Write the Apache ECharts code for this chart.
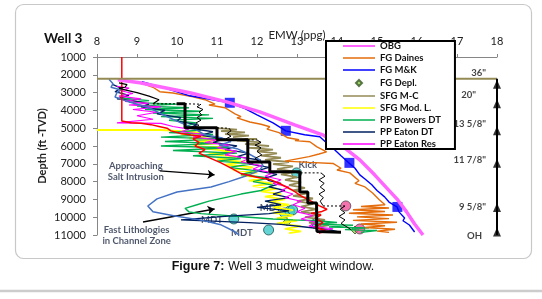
<!DOCTYPE html>
<html>
<head>
<meta charset="utf-8">
<title>Well 3 mudweight window</title>
<script src="https://cdn.jsdelivr.net/npm/echarts@6/dist/echarts.min.js"></script>
<style>
  html, body { margin: 0; padding: 0; background: #fff; }
  #chart { width: 542px; height: 299px; }
</style>
</head>
<body>
<div id="chart"></div>
<script>
// axis ranges
const emwMin = 8, emwMax = 18, emwStep = 1;
const depthMin = 1000, depthMax = 11000, depthStep = 1000;

// all curves are [EMW (ppg), depth (ft TVD)]
const obg = [[8.52,2280],[9.07,2450],[9.57,2670],[10.32,3010],[11.24,3520],[12.07,4080],[12.94,4810],[13.64,5370],
  [14.19,6100],[14.57,6780],[14.94,7620],[15.24,8350],[15.52,9030],[15.74,9700],[15.94,10380],[16.15,11000]];

const fgDaines = [[9.14,2500],[9.4,2700],[9.57,2950],[9.9,3020],[9.85,3100],[10.4,3240],[10.7,3400],[10.95,3650],
  [10.8,3700],[11.2,3850],[11.45,4200],[11.6,4350],[11.5,4420],[11.82,4650],[12.1,4780],[12.32,4920],[12.25,5050],
  [12.55,5250],[12.77,5540],[13.05,5650],[12.95,5700],[13.32,5760],[13.5,6050],[13.74,6330],[13.55,6450],[13.3,6600],
  [12.7,6850],[13.3,6920],[13.9,6980],[14.1,7250],[14.0,7350],[14.32,7510],[14.55,7950],[14.45,8100],[14.7,8300],
  [14.89,8640],[15.05,9000],[15.2,9300],[14.6,9400],[15.3,9480],[14.4,9580],[15.2,9680],[14.3,9780],[15.4,9880],
  [14.5,9980],[15.3,10080],[14.4,10180],[15.5,10280],[14.6,10380],[15.2,10480],[14.7,10580],[15.45,10680],
  [15.0,10780],[15.3,10850]];

const fgMK = [[9.12,2390],[9.7,2750],[10.32,3180],[10.9,3400],[11.32,3580],[11.7,3900],[12.0,4250],[12.4,4700],
  [12.72,5150],[13.19,5370],[13.57,5480],[13.75,5850],[13.94,6210],[14.1,6550],[14.3,6950],[14.45,7250],[14.57,7620],
  [14.7,7850],[14.87,8180],[15.0,8500],[15.19,8860],[15.3,9150],[15.5,9420],[15.55,9700],[15.69,10040],[15.65,10200],
  [15.81,10440],[15.94,10830]];

const fgDepl = [[12.75,10270],[14.45,10720]];

const sfgMC = [[11.0,5000],[11.5,5080],[11.1,5160],[11.7,5240],[11.2,5330],[11.8,5420],[11.4,5500],[12.0,5600],
  [11.5,5700],[12.1,5800],[11.7,5900],[12.3,6000],[11.8,6100],[12.4,6200],[12.0,6300],[12.5,6420],[12.1,6540],
  [12.6,6660],[12.2,6780],[12.8,6900],[12.4,7020],[12.9,7150],[12.5,7300],[13.0,7450],[12.6,7600],[13.0,7750],
  [12.7,7900],[13.1,8050],[12.8,8200],[13.2,8350],[12.9,8500],[13.3,8650],[12.9,8800],[13.4,8950],[13.0,9100],
  [13.4,9250],[13.1,9400],[13.5,9550],[13.1,9700],[13.6,9850],[13.2,10000],[13.7,10150],[13.3,10300],[13.8,10450],
  [13.4,10600],[13.9,10750],[13.6,10850]];

const sfgModL = [[8.0,5100],[9.6,5100],[10.0,5150],[10.6,5250],[10.1,5350],[10.9,5450],[10.3,5550],[11.1,5650],
  [10.5,5750],[11.0,5850],[10.4,5950],[11.2,6050],[10.7,6150],[11.4,6300],[10.8,6450],[11.5,6600],[11.0,6750],
  [11.7,6900],[11.2,7050],[11.9,7200],[11.4,7350],[12.0,7500],[11.6,7650],[12.2,7800],[11.8,7950],[12.4,8100],
  [11.9,8250],[12.5,8400],[12.1,8550],[12.6,8700],[12.2,8850],[12.7,9000],[12.3,9150],[12.8,9300],[12.4,9450],
  [12.9,9600],[12.4,9750],[12.9,9900],[12.5,10050],[13.0,10200],[12.5,10350],[13.1,10500],[12.7,10650],[13.1,10800],
  [12.8,10900]];

const ppBowers = [[8.6,3300],[9.3,3450],[8.8,3550],[10.0,3650],[9.0,3750],[10.3,3850],[9.2,3950],[10.6,4050],
  [9.4,4150],[10.8,4250],[9.6,4350],[10.9,4450],[9.8,4550],[10.5,4700],[10.2,4900],[10.6,5100],[9.8,5250],[10.9,5350],
  [9.6,5500],[11.1,5600],[9.7,5750],[11.0,5850],[9.6,6000],[11.3,6100],[9.9,6250],[11.5,6400],[10.4,6550],[11.6,6700],
  [11.0,6850],[11.9,7000],[11.3,7200],[12.0,7400],[11.6,7600],[12.3,7800],[11.9,8000],[12.4,8200],[12.1,8500],
  [11.6,8700],[11.2,8900],[10.8,9100],[10.5,9300],[10.2,9500],[10.3,9700],[10.6,9800],[11.2,9900],[11.8,10000],
  [12.4,10100],[12.9,10150],[13.5,10200],[14.0,10300],[13.4,10400],[14.4,10450],[13.8,10550],[14.8,10600],
  [14.2,10700],[15.0,10750],[14.6,10850]];

const ppEatonDT = [[8.4,2550],[8.6,2750],[8.45,2950],[8.8,3150],[8.5,3350],[8.9,3450],[9.3,3650],[9.1,3800],
  [9.7,4000],[9.5,4200],[10.1,4400],[10.0,4600],[10.5,4800],[10.3,5000],[10.9,5200],[10.6,5400],[11.2,5600],
  [10.9,5800],[11.5,6000],[11.2,6200],[11.8,6400],[11.5,6600],[12.1,6800],[11.8,7000],[12.3,7200],[12.0,7400],
  [12.5,7600],[12.2,7800],[12.3,7950],[12.6,8100],[12.3,8300],[12.7,8500],[12.4,8700],[12.8,8900],[12.2,9100],
  [12.6,9300],[12.0,9450],[12.8,9650],[12.3,9800],[11.2,9950],[10.1,10150],[10.9,10220],[11.8,10300],[12.6,10400],
  [13.2,10550],[13.8,10700],[14.1,10850]];

const ppEatonRes = [[8.5,2650],[8.8,2750],[8.6,2900],[8.9,3050],[8.55,3200],[9.1,3350],[8.7,3500],[9.3,3600],
  [8.8,3700],[9.6,3800],[8.9,3950],[9.5,4100],[9.0,4300],[9.4,4500],[8.5,4700],[9.6,4730],[9.9,4900],[10.3,5050],
  [10.1,5200],[10.7,5350],[10.4,5500],[11.0,5650],[10.7,5800],[11.3,5950],[11.0,6100],[11.5,6300],[11.2,6500],
  [11.8,6700],[11.6,6900],[12.1,7100],[11.9,7300],[12.4,7500],[12.2,7700],[12.6,7900],[12.4,8100],[12.8,8300],
  [12.6,8500],[12.9,8700],[12.7,8900],[13.1,9100],[12.9,9300],[13.2,9500],[13.0,9700],[13.4,9900],[13.1,10100],
  [13.5,10300],[13.3,10500],[13.9,10650],[13.5,10800]];

// unlabelled traces
const ppRed = [[8.62,1000],[8.62,4600],[8.85,4700],[9.1,4720],[9.35,4800],[9.55,4900],[9.75,5000],[9.85,5150],
  [10.1,5300],[10.35,5380],[10.6,5450],[10.4,5600],[10.55,5800],[10.45,6000],[10.7,6200],[10.55,6400],[10.8,6650],
  [11.1,6950],[11.4,7300],[11.6,7550],[12.0,7750],[12.35,7900],[12.6,8150],[12.9,8500],[13.1,8800],[13.35,9100],
  [13.55,9350],[13.75,9550],[13.6,9700],[13.35,9780],[13.6,9880],[13.45,10050],[13.65,10300],[13.45,10550],
  [13.7,10750],[13.55,10900]];

const ppSteel = [[8.3,2250],[8.4,2500],[8.35,2700],[8.6,2850],[8.5,3000],[8.45,3250],[8.7,3450],[8.9,3580],
  [9.3,3850],[9.75,4350],[10.1,4700],[10.4,4980],[10.7,5370],[11.1,5540],[11.35,5750],[11.05,5950],[11.5,6150],
  [11.8,6450],[12.05,6750],[12.15,7100],[12.05,7400],[11.7,7700],[11.3,8000],[10.85,8300],[10.0,8580],[9.5,8970],
  [9.27,9370],[9.4,9700],[9.95,9930],[10.57,10150],[11.1,10430],[11.45,10820],[11.55,11000]];

const mudWeight = [[9.99,3630],[10.2,3630],[10.2,4980],[11.0,4980],[11.0,5655],[11.77,5655],[11.77,6900],
  [12.32,6900],[12.32,7450],[13.07,7450],[13.07,8580],[13.27,8580],[13.27,9200],[13.49,9200],[13.49,10550],
  [13.5,10800],[14.1,10850]];

const ecdTop = [[8.55,2450],[8.75,2550],[8.7,2700],[8.55,2750],[8.7,2850],[9.0,3000],[9.3,3200],[9.55,3400],[9.4,3630]];

const dashedLinks = [
  [[9.4,3630],[10.0,3630]],
  [[10.2,3630],[10.6,3650]],
  [[11.0,4980],[11.3,5000]],
  [[11.77,5655],[12.0,5660]],
  [[12.99,7510],[13.6,7510]],
  [[13.65,9370],[14.2,9370]]
];

const thinTraces = [
  [[10.6,3650],[10.5,3800],[10.65,3950],[10.55,4100],[10.62,4250],[10.5,4400],[10.6,4550],[10.48,4700],[10.55,4850],[10.4,4950]],
  [[11.3,5000],[11.35,5150],[11.25,5300],[11.35,5450],[11.22,5600]],
  [[12.0,5660],[12.1,5800],[11.95,5950],[12.1,6100],[12.0,6300],[12.12,6500],[11.95,6700],[12.05,6880]],
  [[13.6,7510],[13.7,7700],[13.55,7900],[13.68,8100],[13.58,8300],[13.7,8500],[13.55,8700],[13.66,8900],[13.58,9100],[13.65,9350]],
  [[14.2,9370],[14.08,9550],[14.2,9750],[14.05,9950],[14.2,10150],[14.1,10350],[14.25,10550],[14.35,10700]]
];

const lotPoints = [[11.32,3572],[12.72,5147],[14.31,6948],[15.51,9424]];
const mdtPoints = [[12.99,7510],[12.69,9761],[12.82,9649],[12.89,9593],[13.49,10320],[11.42,10099],[12.29,10718]];
const kickPoints = [[14.22,9367],[14.57,10661]];

const mudline = [[8,2220],[18,2220]];
const casingLine = [[18,2220],[18,11000]];
const casingShoes = [2531,3628,5147,6976,9452,10830];
const casingNames = ['36"', '20"', '13 5/8"', '11 7/8"', '9 5/8"', 'OH'];
const casingLabelDepth = [1883,3121,4753,6779,9424,11056];

const notes = [
  { name: 'Approaching\nSalt Intrusion', at: [8.97,7426] },
  { name: 'Fast Lithologies\nin Channel Zone', at: [8.99,11027] },
  { name: 'Kick', at: [13.27,7060] },
  { name: 'MDT', at: [10.87,10155] },
  { name: 'MDT', at: [11.62,10886] },
  { name: 'MDT', at: [12.34,9480] }
];
const arrows = [
  [[9.57,7400],[10.94,7620]],
  [[9.15,10270],[10.94,9540]]
];

const FONT = 'Lato, "Noto Sans", sans-serif';
// legend glyphs: a thin bar (or a small diamond) inside a fixed 32x10 box
const BAR_ICON = 'path://M0,0M32,10M0,4.25L32,4.25L32,5.75L0,5.75Z';
const WIDE_BAR_ICON = 'path://M0,0M32,10M0,4L32,4L32,6L0,6Z';
const DIAMOND_ICON = 'path://M0,0M32,10M13,5L16,2L19,5L16,8Z';

function line(name, data, color, width, extra) {
  return Object.assign({
    name: name,
    type: 'line',
    data: data,
    symbol: 'none',
    smooth: false,
    silent: true,
    lineStyle: { color: color, width: width },
    itemStyle: { color: color }
  }, extra || {});
}

const series = [
  line('SFG Mod. L.', sfgModL, '#FFFF00', 1.8),
  line('SFG M-C', sfgMC, '#948A54', 1.8),
  line('PP Bowers DT', ppBowers, '#00B050', 1.4),
  line('PP Eaton DT', ppEatonDT, '#002060', 1.3),
  line('PP Eaton Res', ppEatonRes, '#FF00FF', 1.1),
  line('pp-steel', ppSteel, '#4472C4', 1.5),
  line('pp-red', ppRed, '#FF0000', 1.5),
  line('FG Daines', fgDaines, '#E46C0A', 1.4),
  line('FG M&K', fgMK, '#0000FF', 1.4),
  line('OBG', obg, '#FF66FF', 3.5),
  line('mudline', mudline, '#948A54', 2),
  line('ecd-top', ecdTop, '#000', 1.2)
];
dashedLinks.forEach(function (d, i) {
  series.push(line('dash' + i, d, '#000', 1, { lineStyle: { color: '#000', width: 1, type: [2, 2] } }));
});
thinTraces.forEach(function (d, i) {
  series.push(line('thin' + i, d, '#000', 1));
});
series.push(line('mud-weight', mudWeight, '#000', 3));
series.push(line('casing', casingLine, '#000', 2));

series.push({
  name: 'FG Depl.', type: 'scatter', data: fgDepl, symbol: 'diamond', symbolSize: 8,
  itemStyle: { color: '#92D050', borderColor: '#375623', borderWidth: 1 }
});
series.push({
  name: 'lot', type: 'scatter', data: lotPoints, symbol: 'rect', symbolSize: 10,
  itemStyle: { color: '#0000FF' }
});
series.push({
  name: 'mdt', type: 'scatter', data: mdtPoints, symbol: 'circle', symbolSize: 10,
  itemStyle: { color: '#3CC8C8', borderColor: '#1E4D4D', borderWidth: 1 }
});
series.push({
  name: 'kick', type: 'scatter', data: kickPoints, symbol: 'circle', symbolSize: 10,
  itemStyle: { color: '#F0509A', borderColor: '#4A4A4A', borderWidth: 1 }
});
series.push({
  name: 'shoes', type: 'scatter', clip: false,
  data: casingShoes.map(function (d) { return [emwMax, d]; }),
  symbol: 'triangle', symbolSize: [8, 9], itemStyle: { color: '#000' }
});
series.push({
  name: 'casing-labels', type: 'scatter', clip: false, symbolSize: 0,
  data: casingNames.map(function (n, i) {
    return { name: n, value: [emwMax, casingLabelDepth[i]], label: { distance: n === '20"' ? 21 : (n === 'OH' ? 15 : 11) } };
  }),
  label: { show: true, position: 'left', formatter: '{b}', color: '#111', fontFamily: FONT, fontWeight: 'bold', fontSize: 9.5 }
});
series.push({
  name: 'arrows', type: 'lines', coordinateSystem: 'cartesian2d', silent: true,
  data: arrows.map(function (c) { return { coords: c }; }),
  symbol: ['none', 'arrow'], symbolSize: 7,
  lineStyle: { color: '#000', width: 1.4, opacity: 1 }
});
series.push({
  name: 'notes', type: 'scatter', clip: false, symbolSize: 0, silent: true,
  data: notes.map(function (n) { return { name: n.name, value: n.at }; }),
  label: { show: true, position: 'inside', formatter: '{b}', color: '#1F2A44', fontFamily: FONT,
    fontWeight: 'bold', fontSize: 9.5, lineHeight: 11, align: 'center', verticalAlign: 'middle' }
});

const legendNames = ['OBG', 'FG Daines', 'FG M&K', 'FG Depl.', 'SFG M-C', 'SFG Mod. L.', 'PP Bowers DT', 'PP Eaton DT', 'PP Eaton Res'];

const chart = echarts.init(document.getElementById('chart'));
chart.setOption({
  animation: false,
  backgroundColor: '#fff',
  grid: { left: 97, top: 57, width: 400, height: 178 },
  xAxis: {
    type: 'value', position: 'top', min: emwMin, max: emwMax, interval: emwStep,
    name: 'EMW (ppg)', nameLocation: 'middle', nameGap: 16, nameMoveOverlap: false,
    nameTextStyle: { fontFamily: FONT, fontSize: 11.5, color: '#222' },
    axisLine: { show: true, lineStyle: { color: '#868686', width: 1 } },
    axisTick: { show: true, length: 3, lineStyle: { color: '#868686' } },
    axisLabel: { margin: 10, fontFamily: FONT, fontSize: 11, color: '#222' },
    splitLine: { show: false }
  },
  yAxis: {
    type: 'value', inverse: true, min: depthMin, max: depthMax, interval: depthStep,
    name: 'Depth (ft -TVD)', nameLocation: 'middle', nameGap: 49, nameMoveOverlap: false,
    nameTextStyle: { fontFamily: FONT, fontSize: 11, fontWeight: 'bold', color: '#222' },
    axisLine: { show: true, lineStyle: { color: '#868686', width: 1 } },
    axisTick: { show: true, length: 4, lineStyle: { color: '#868686' } },
    axisLabel: { margin: 11, fontFamily: FONT, fontSize: 11, color: '#222',
      formatter: function (v) { return String(v); } },
    splitLine: { show: false }
  },
  legend: {
    orient: 'vertical', left: 326, top: 41,
    padding: [0, 14, 0, 16], itemGap: 2, itemWidth: 32, itemHeight: 10,
    backgroundColor: '#fff', borderColor: '#000', borderWidth: 2, borderRadius: 0,
    selectedMode: false,
    textStyle: { fontFamily: FONT, fontWeight: 'bold', fontSize: 9.5, lineHeight: 10, color: '#111' },
    data: legendNames.map(function (n) {
      if (n === 'FG Depl.') return { name: n, icon: DIAMOND_ICON };
      if (n === 'OBG') return { name: n, icon: WIDE_BAR_ICON };
      return { name: n, icon: BAR_ICON };
    })
  },
  graphic: [
    { type: 'rect', shape: { x: 15.5, y: 4.5, width: 516, height: 254, r: 8 }, silent: true, z: -10,
      style: { fill: 'none', stroke: '#C8C8C8', lineWidth: 1.2 } },
    { type: 'text', left: 44, top: 32, silent: true,
      style: { text: 'Well 3', fontFamily: FONT, fontWeight: 'bold', fontSize: 13.5, fill: '#111' } },
    { type: 'text', x: 273, y: 267, silent: true,
      style: { text: '{b|Figure 7:} Well 3 mudweight window.', align: 'center', verticalAlign: 'middle',
        fontFamily: '"Liberation Sans", Arial, sans-serif', fontSize: 12.5, fill: '#111',
        rich: { b: { fontWeight: 'bold', fontFamily: '"Liberation Sans", Arial, sans-serif', fontSize: 12.5, fill: '#111' } } } },
    { type: 'line', shape: { x1: 0, y1: 291, x2: 542, y2: 291 }, silent: true,
      style: { stroke: '#CCCCCC', lineWidth: 2.5 } }
  ],
  series: series
});
</script>
</body>
</html>
